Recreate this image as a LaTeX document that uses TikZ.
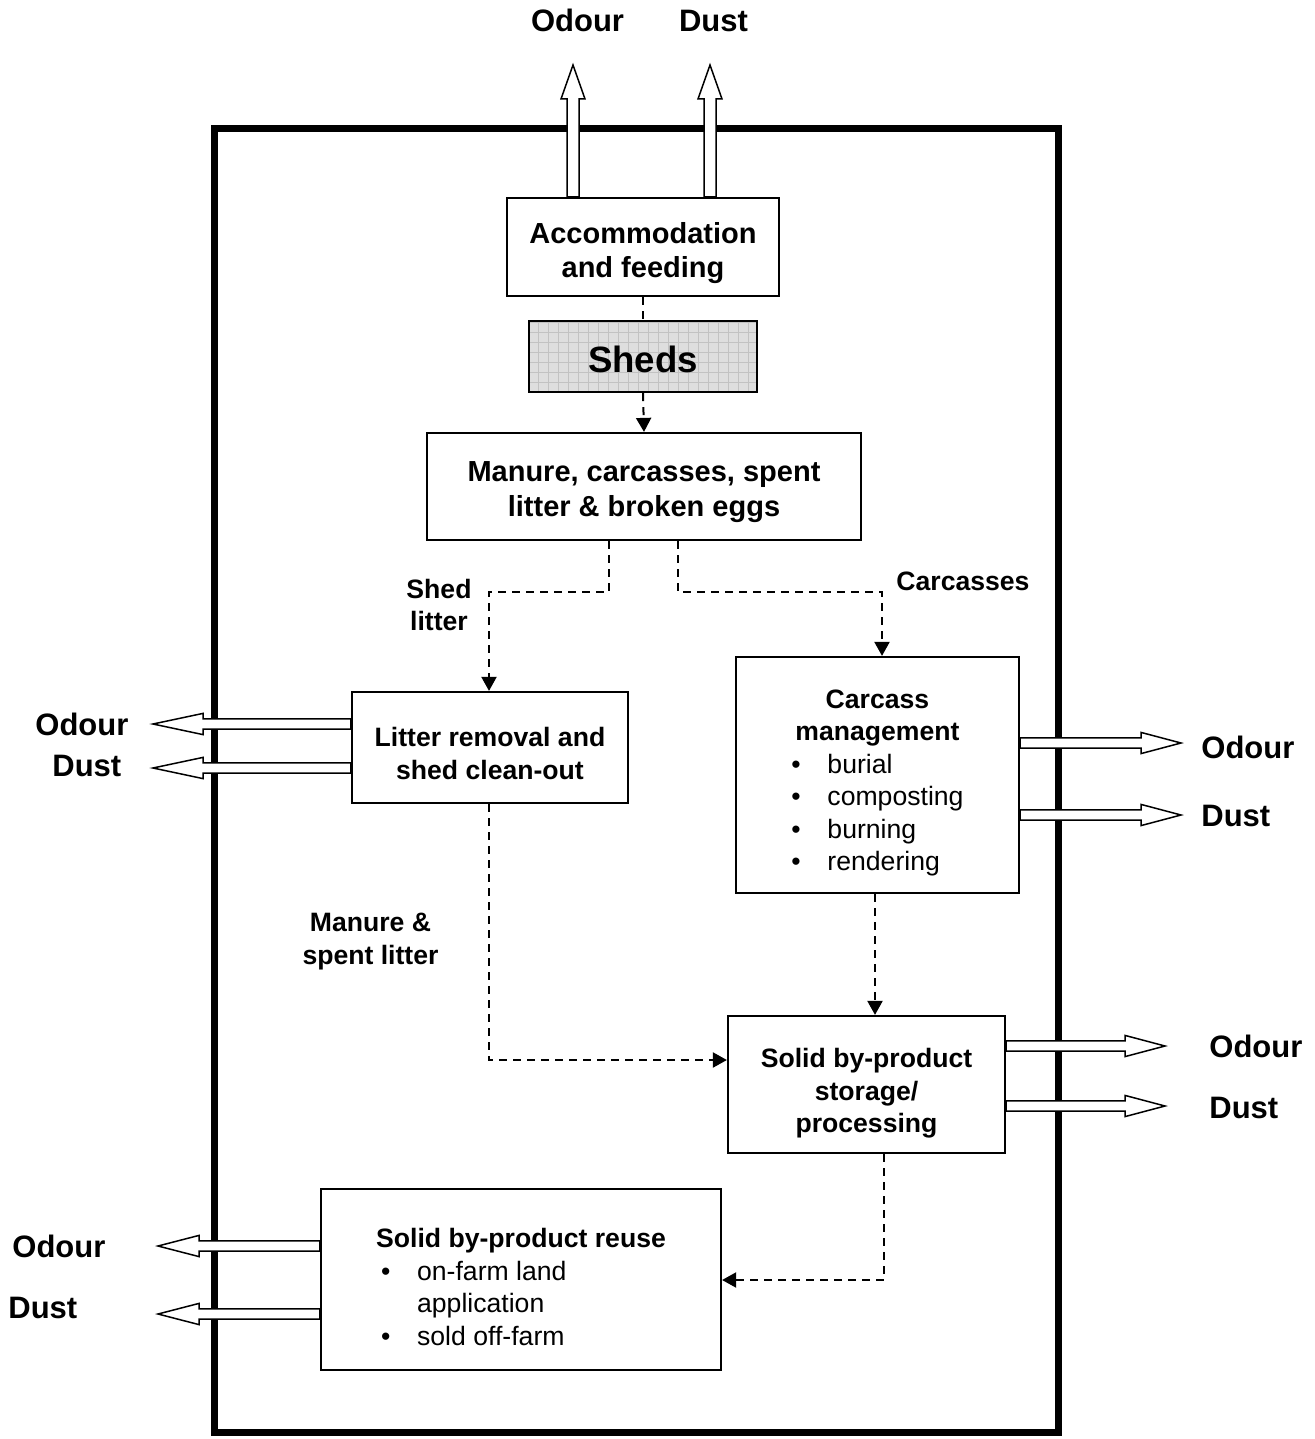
\documentclass[tikz,border=0pt]{standalone}
\usepackage{fontspec}
\setmainfont{Liberation Sans}
\usetikzlibrary{calc,arrows.meta}

\newcommand\myLfont{\fontsize{15.5}{18}\selectfont\bfseries}
\newcommand\myBfont{\fontsize{14.5}{17.2}\selectfont\bfseries}
\newcommand\myMfont{\fontsize{13.3}{16.2}\selectfont}
\newcommand\myblt{\makebox[18pt][l]{\textbullet}}

% #1 start coordinate, #2 tip coordinate, #3 shaft half width, #4 head half width, #5 head length
\newcommand\hollowarrow[5]{%
  \coordinate (ha-b) at ($(#2)!#5!(#1)$);
  \draw[hollow] ($(#1)!#3!90:(#2)$) -- ($(ha-b)!#3!90:(#2)$) -- ($(ha-b)!#4!90:(#2)$) -- (#2)
     -- ($(ha-b)!#4!-90:(#2)$) -- ($(ha-b)!#3!-90:(#2)$) -- ($(#1)!#3!-90:(#2)$) -- cycle;
}

\begin{document}
\begin{tikzpicture}[x=0.5pt,y=-0.5pt,
  box/.style={draw, line width=1.1pt, fill=white, inner sep=0pt, align=center},
  lbl/.style={font=\myLfont, inner sep=0pt, text height=0.95em, text depth=0pt},
  slbl/.style={font=\myMfont\bfseries, inner sep=0pt, align=center},
  dline/.style={line width=1pt, dash pattern=on 4pt off 3pt},
  darrow/.style={dline, -{Triangle[length=7pt,width=7.5pt]}},
  hollow/.style={draw, fill=white, line width=0.75pt, line join=miter},
  frame/.style={line width=3.5pt}]

\useasboundingbox (0,0) rectangle (1315,1439);

% outer frame
\draw[frame] (214.5,129) rectangle (1058,1432);

% boxes
\node[box, minimum width=136pt, minimum height=49pt, font=\myBfont] (acc) at (643,247)
  {\rule{0pt}{16.6pt}Accommodation\\and feeding};
\node[box, minimum width=114pt, minimum height=35.5pt, fill=black!13,
  font=\fontsize{18.3}{21}\selectfont\bfseries,
  path picture={\draw[black!24, line width=0.35pt] (path picture bounding box.south west) grid[step=5pt] (path picture bounding box.north east);}]
  (sheds) at (643,356.5) {\rule{0pt}{16.4pt}Sheds};
\node[box, minimum width=217pt, minimum height=53.5pt, font=\fontsize{14.5}{17.6}\selectfont\bfseries] (man) at (644,486.5)
  {\rule{0pt}{15.6pt}Manure, carcasses, spent\\litter \& broken eggs};
\node[box, minimum width=138pt, minimum height=55.5pt, font=\myMfont\bfseries] (lit) at (490,747.5)
  {\rule{0pt}{15.7pt}Litter removal and\\shed clean-out};
\node[box, minimum width=141.5pt, minimum height=118pt, font=\myMfont] (carc) at (877.5,775)
  {\begin{tabular}{@{}l@{}}
   \noalign{\vskip 8pt}
   \multicolumn{1}{@{}c@{}}{\bfseries Carcass}\\
   \multicolumn{1}{@{}c@{}}{\bfseries management}\\
   \myblt burial\\ \myblt composting\\ \myblt burning\\ \myblt rendering
   \end{tabular}};
\node[box, minimum width=138.5pt, minimum height=68.5pt, font=\myMfont\bfseries] (stor) at (866.5,1084.5)
  {\rule{0pt}{18.7pt}Solid by-product\\storage/\\processing};
\node[box, minimum width=200pt, minimum height=90.5pt, font=\myMfont] (reuse) at (521,1279.5)
  {\begin{tabular}{@{}l@{}}
   \noalign{\vskip 10.5pt}
   {\bfseries Solid by-product reuse}\\
   \hspace*{2.5pt}\myblt on-farm land\\
   \hspace*{20.5pt}application\\
   \hspace*{2.5pt}\myblt sold off-farm
   \end{tabular}};

% emission labels
\node[lbl] (tOd) at (577.5,22) {Odour};
\node[lbl] (tDu) at (713.5,22) {Dust};
\node[lbl, anchor=west] (lOd) at (35,726) {Odour};
\node[lbl, anchor=west] (lDu) at (52,767) {Dust};
\node[lbl, anchor=west] (cOd) at (1201,749) {Odour};
\node[lbl, anchor=west] (cDu) at (1201,817) {Dust};
\node[lbl, anchor=west] (sOd) at (1209,1048) {Odour};
\node[lbl, anchor=west] (sDu) at (1209,1109) {Dust};
\node[lbl, anchor=west] (rOd) at (12,1248) {Odour};
\node[lbl, anchor=west] (rDu) at (8,1309) {Dust};

% flow labels
\node[slbl] (shl) at (439,605) {Shed\\litter};
\node[slbl] (carl) at (963,581) {Carcasses};
\node[slbl] (manl) at (370.5,941.5) {Manure \&\\spent litter};

% hollow emission arrows
\coordinate (a1s) at (573,0 |- acc.north);  \coordinate (a1t) at (573,65);
\coordinate (a2s) at (710,0 |- acc.north);  \coordinate (a2t) at (710,65);
\hollowarrow{a1s}{a1t}{3pt}{6pt}{17pt}
\hollowarrow{a2s}{a2t}{3pt}{6pt}{17pt}

\coordinate (b1s) at (lit.west |- 0,724);  \coordinate (b1t) at (153,724);
\coordinate (b2s) at (lit.west |- 0,768);  \coordinate (b2t) at (153,768);
\hollowarrow{b1s}{b1t}{2.6pt}{5.3pt}{25pt}
\hollowarrow{b2s}{b2t}{2.6pt}{5.3pt}{25pt}

\coordinate (c1s) at (carc.east |- 0,743);  \coordinate (c1t) at (1181,743);
\coordinate (c2s) at (carc.east |- 0,815);  \coordinate (c2t) at (1181,815);
\hollowarrow{c1s}{c1t}{2.6pt}{5.3pt}{20pt}
\hollowarrow{c2s}{c2t}{2.6pt}{5.3pt}{20pt}

\coordinate (d1s) at (stor.east |- 0,1046);  \coordinate (d1t) at (1165,1046);
\coordinate (d2s) at (stor.east |- 0,1106);  \coordinate (d2t) at (1165,1106);
\hollowarrow{d1s}{d1t}{2.6pt}{5.3pt}{20pt}
\hollowarrow{d2s}{d2t}{2.6pt}{5.3pt}{20pt}

\coordinate (e1s) at (reuse.west |- 0,1246);  \coordinate (e1t) at (158,1246);
\coordinate (e2s) at (reuse.west |- 0,1314);  \coordinate (e2t) at (158,1314);
\hollowarrow{e1s}{e1t}{2.6pt}{5.3pt}{20.5pt}
\hollowarrow{e2s}{e2t}{2.6pt}{5.3pt}{20.5pt}

% dashed flow connectors
\draw[dline] (acc.south) -- (sheds.north);
\draw[darrow] (sheds.south) -- (man.north);
\draw[darrow] (609,0 |- man.south) -- (609,592) -| (489,0 |- lit.north);
\draw[darrow] (678,0 |- man.south) -- (678,592) -| (882,0 |- carc.north);
\draw[darrow] (875,0 |- carc.south) -- (875,0 |- stor.north);
\draw[darrow] (489,0 |- lit.south) |- (stor.west |- 0,1060);
\draw[darrow] (884,0 |- stor.south) |- (reuse.east |- 0,1280);

\end{tikzpicture}
\end{document}
